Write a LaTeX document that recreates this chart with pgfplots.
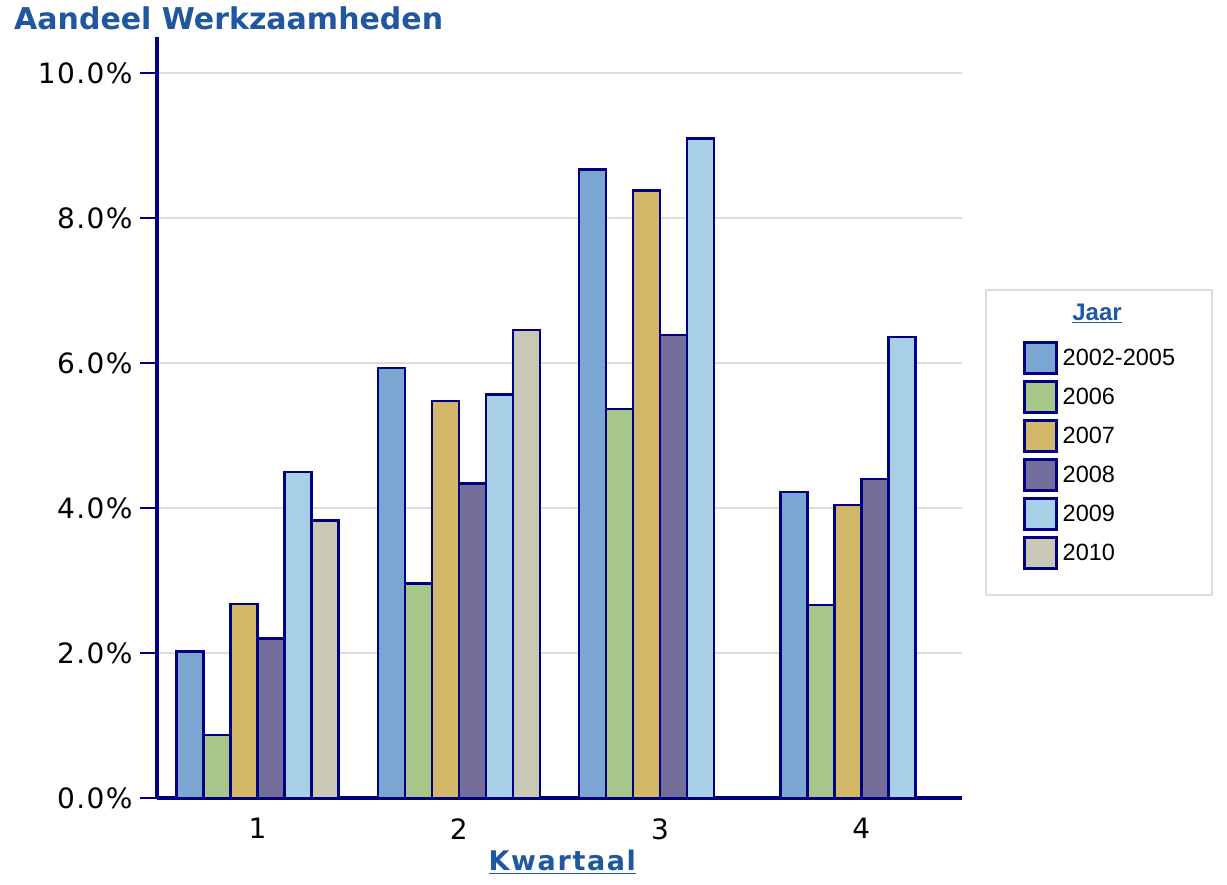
\documentclass[border=0pt]{standalone}
\usepackage{fontspec}
\setmainfont{DejaVu Sans}
\newfontfamily\legfont{Liberation Sans}
\newfontfamily\tickfont[LetterSpace=5]{DejaVu Sans}
\newfontfamily\labfont[LetterSpace=6]{DejaVu Sans}
\usepackage{pgfplots}
\pgfplotsset{compat=1.18}
\definecolor{cA}{HTML}{7BA6D2}
\definecolor{cB}{HTML}{A6C68A}
\definecolor{cC}{HTML}{D4B86A}
\definecolor{cD}{HTML}{746E9A}
\definecolor{cE}{HTML}{A7CFE6}
\definecolor{cF}{HTML}{C8C8B4}
\definecolor{edge}{HTML}{000080}
\definecolor{titleblue}{HTML}{1F57A0}
\definecolor{gridgray}{HTML}{DDDDDD}

\begin{document}
\begin{tikzpicture}[x=1pt,y=1pt]
\useasboundingbox (0,0) rectangle (1227,885);
% legend frame and title
\draw[gridgray, line width=2pt] (986,290) rectangle (1212,595);
\node[font=\legfont\bfseries\fontsize{24}{26}\selectfont, text=titleblue] at (1097,572) {\underline{Jaar}};
\node[anchor=base west, font=\bfseries\fontsize{30}{32}\selectfont, text=titleblue, inner sep=0pt]
    at (14,855) {Aandeel Werkzaamheden};
\begin{axis}[
    at={(157pt,87pt)}, anchor=south west,
    scale only axis,
    width=805pt, height=761pt,
    xmin=0.5, xmax=4.5, ymin=0, ymax=10.5,
    ybar=0pt, bar width=27pt,
    axis lines*=left,
    axis line style={edge, line width=4pt},
    xtick={1,2,3,4},
    xtick style={draw=none},
    ytick={0,2,...,10},
    ytick style={edge, line width=2pt},
    major tick length=17pt,
    tick align=outside,
    ymajorgrids,
    grid style={gridgray, line width=1.5pt},
    tick label style={font=\tickfont\fontsize{28}{30}\selectfont},
    yticklabel style={xshift=-4pt},
    /pgf/number format/assume math mode=true,
    yticklabel={\pgfmathprintnumber[fixed,fixed zerofill,precision=1]{\tick}\%},
    xlabel={\underline{Kwartaal}},
    xlabel style={at={(axis description cs:0.5035,-0.084)}, anchor=center,
        font=\labfont\bfseries\fontsize{27}{30}\selectfont, text=titleblue},
    legend style={at={(axis description cs:1.0758,0.6005)}, anchor=north west,
        draw=none, fill=none, inner sep=0pt,
        font=\legfont\fontsize{23.5}{25}\selectfont,
        row sep=5.5pt, column sep=5pt,
        nodes={inner sep=0pt}},
    legend cell align=left,
    legend image code/.code={\draw[#1, line width=2.5pt] (0pt,-15pt) rectangle (32pt,16pt);},
]
\addplot[fill=cA, draw=edge, line width=2.5pt] coordinates {(1,2.02) (2,5.93) (3,8.67) (4,4.22)};
\addplot[fill=cB, draw=edge, line width=2.5pt] coordinates {(1,0.87) (2,2.96) (3,5.37) (4,2.66)};
\addplot[fill=cC, draw=edge, line width=2.5pt] coordinates {(1,2.68) (2,5.48) (3,8.38) (4,4.04)};
\addplot[fill=cD, draw=edge, line width=2.5pt] coordinates {(1,2.20) (2,4.34) (3,6.39) (4,4.40)};
\addplot[fill=cE, draw=edge, line width=2.5pt] coordinates {(1,4.50) (2,5.57) (3,9.10) (4,6.36)};
\addplot[fill=cF, draw=edge, line width=2.5pt] coordinates {(1,3.83) (2,6.46)};
\legend{2002-2005,2006,2007,2008,2009,2010}
\end{axis}
\end{tikzpicture}
\end{document}
